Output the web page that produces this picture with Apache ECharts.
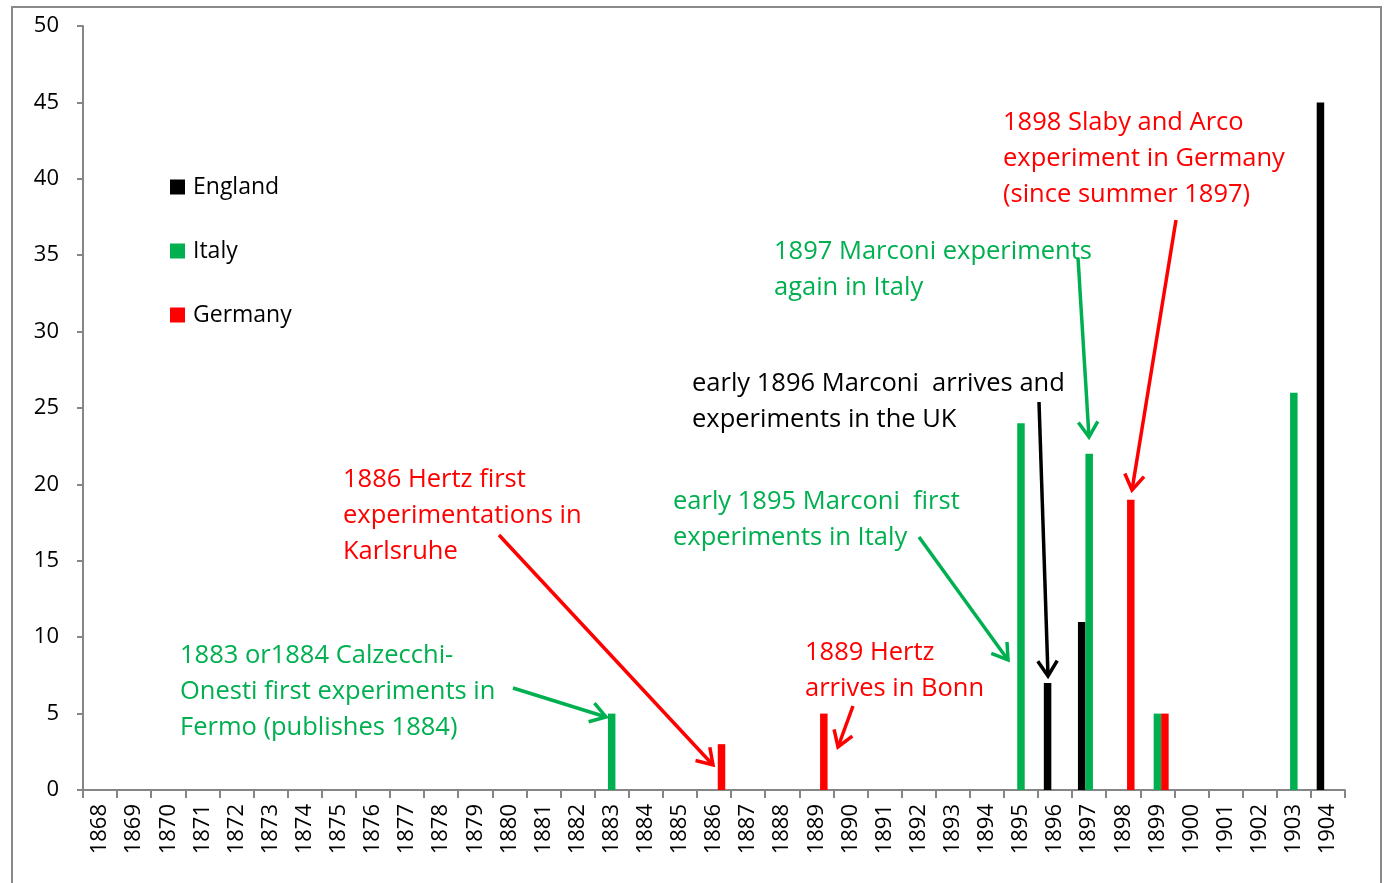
<!DOCTYPE html>
<html>
<head>
<meta charset="utf-8">
<title>Early wireless experiments</title>
<script src="https://cdn.jsdelivr.net/npm/echarts@6/dist/echarts.min.js"></script>
<style>
  html, body { margin: 0; padding: 0; background: #fff; }
  #chart { width: 1387px; height: 883px; }
</style>
</head>
<body>
<div id="chart"></div>
<script>
// years on the x axis
var years = [
  "1868", "1869", "1870", "1871", "1872", "1873", "1874", "1875", "1876", "1877",
  "1878", "1879", "1880", "1881", "1882", "1883", "1884", "1885", "1886", "1887",
  "1888", "1889", "1890", "1891", "1892", "1893", "1894", "1895", "1896", "1897",
  "1898", "1899", "1900", "1901", "1902", "1903", "1904"
];
// one value per year
var england = [
  0, 0, 0, 0, 0, 0, 0, 0, 0, 0,
  0, 0, 0, 0, 0, 0, 0, 0, 0, 0,
  0, 0, 0, 0, 0, 0, 0, 0, 7, 11,
  0, 0, 0, 0, 0, 0, 45
];
var italy = [
  0, 0, 0, 0, 0, 0, 0, 0, 0, 0,
  0, 0, 0, 0, 0, 5, 0, 0, 0, 0,
  0, 0, 0, 0, 0, 0, 0, 24, 0, 22,
  0, 5, 0, 0, 0, 26, 0
];
var germany = [
  0, 0, 0, 0, 0, 0, 0, 0, 0, 0,
  0, 0, 0, 0, 0, 0, 0, 0, 3, 0,
  0, 5, 0, 0, 0, 0, 0, 0, 0, 0,
  19, 5, 0, 0, 0, 0, 0
];
var yTicks = [0, 5, 10, 15, 20, 25, 30, 35, 40, 45, 50];

var FONT = "Open Sans";
var BLACK = "#000000", GREEN = "#00B050", RED = "#FF0000";
var AXIS = "#868686";

// annotation text blocks
var notes = [
  { x: 343, y: 480, color: RED, lines: ["1886 Hertz first", "experimentations in", "Karlsruhe"] },
  { x: 180, y: 656, color: GREEN, lines: ["1883 or1884 Calzecchi-", "Onesti first experiments in", "Fermo (publishes 1884)"] },
  { x: 805, y: 653, color: RED, lines: ["1889 Hertz", "arrives in Bonn"] },
  { x: 673, y: 502, color: GREEN, lines: ["early 1895 Marconi  first", "experiments in Italy"] },
  { x: 692, y: 384, color: BLACK, lines: ["early 1896 Marconi  arrives and", "experiments in the UK"] },
  { x: 774, y: 252, color: GREEN, lines: ["1897 Marconi experiments", "again in Italy"] },
  { x: 1003, y: 123, color: RED, lines: ["1898 Slaby and Arco", "experiment in Germany", "(since summer 1897)"] }
];
// arrows: tail -> head
var arrows = [
  { from: [513, 688], to: [606, 717], color: GREEN },
  { from: [499, 535], to: [713, 765], color: RED },
  { from: [853, 706], to: [838, 747], color: RED },
  { from: [919, 537], to: [1008, 660], color: GREEN },
  { from: [1039, 402], to: [1048, 676], color: BLACK },
  { from: [1078, 258], to: [1089, 437], color: GREEN },
  { from: [1176, 220], to: [1132, 490], color: RED }
];

function arrowShapes(a) {
  var dx = a.to[0] - a.from[0], dy = a.to[1] - a.from[1];
  var ang = Math.atan2(dy, dx);
  var len = 18, spread = Math.PI / 5.5;
  var p1 = [a.to[0] - len * Math.cos(ang - spread), a.to[1] - len * Math.sin(ang - spread)];
  var p2 = [a.to[0] - len * Math.cos(ang + spread), a.to[1] - len * Math.sin(ang + spread)];
  var style = { stroke: a.color, lineWidth: 3.5, fill: null };
  return [
    { type: "line", shape: { x1: a.from[0], y1: a.from[1], x2: a.to[0], y2: a.to[1] }, style: style, z: 100 },
    { type: "polyline", shape: { points: [p1, a.to, p2] }, style: style, z: 100 }
  ];
}

var graphics = [
  {
    type: "rect",
    shape: { x: 12, y: 7, width: 1369, height: 900 },
    style: { stroke: "#898989", lineWidth: 2, fill: null },
    silent: true
  }
];
notes.forEach(function (n) {
  n.lines.forEach(function (t, i) {
    graphics.push({
      type: "text",
      x: n.x,
      y: n.y + i * 36,
      style: { text: t, fill: n.color, font: "25.5px '" + FONT + "'", verticalAlign: "middle", align: "left" },
      z: 100
    });
  });
});
arrows.forEach(function (a) {
  graphics = graphics.concat(arrowShapes(a));
});

var chart = echarts.init(document.getElementById("chart"));
chart.setOption({
  animation: false,
  textStyle: { fontFamily: FONT },
  grid: { left: 83, right: 42, top: 26, bottom: 93, containLabel: false },
  legend: {
    orient: "vertical",
    left: 165,
    top: 169,
    itemWidth: 15,
    itemHeight: 15,
    itemGap: 38,
    icon: "rect",
    textStyle: { fontSize: 23, color: "#000", lineHeight: 26, fontFamily: FONT, padding: [0, 0, 0, 3] },
    data: ["England", "Italy", "Germany"]
  },
  xAxis: {
    type: "category",
    data: years,
    axisLine: { lineStyle: { color: AXIS, width: 2 } },
    axisTick: { show: true, interval: 0, length: 8, lineStyle: { color: AXIS, width: 2 } },
    axisLabel: { interval: 0, rotate: 90, fontSize: 22, color: "#000", margin: 14, fontFamily: FONT }
  },
  yAxis: {
    type: "value",
    min: yTicks[0],
    max: yTicks[yTicks.length - 1],
    interval: 5,
    axisLine: { show: true, lineStyle: { color: AXIS, width: 2 } },
    axisTick: { show: true, length: 6, lineStyle: { color: AXIS, width: 2 } },
    axisLabel: { fontSize: 22, color: "#000", margin: 24, fontFamily: FONT },
    splitLine: { show: false }
  },
  series: [
    { name: "England", type: "bar", data: england, barWidth: 7.5, barGap: "0%", itemStyle: { color: BLACK } },
    { name: "Italy", type: "bar", data: italy, barWidth: 7.5, barGap: "0%", itemStyle: { color: GREEN } },
    { name: "Germany", type: "bar", data: germany, barWidth: 7.5, barGap: "0%", itemStyle: { color: RED } }
  ],
  graphic: graphics
});
</script>
</body>
</html>
